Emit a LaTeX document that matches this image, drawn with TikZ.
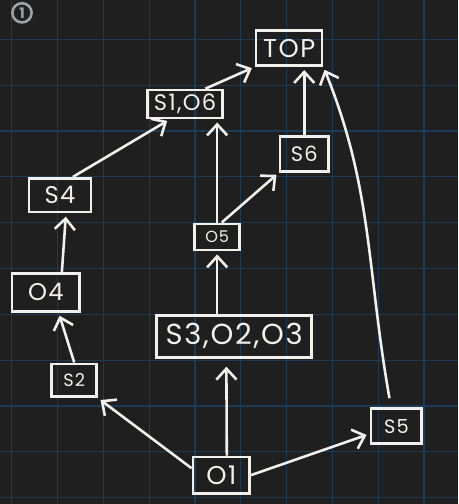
\documentclass[tikz,border=0pt]{standalone}
\usepackage{fontspec}
\setmainfont[LetterSpace=6]{Poppins}
\usetikzlibrary{arrows.meta}
\definecolor{board}{HTML}{201F1F}
\definecolor{gridblue}{HTML}{1A3C58}
\definecolor{chalk}{HTML}{F2F0EC}
\definecolor{pencil}{HTML}{9AA3A8}

\tikzset{
  box/.style={draw=chalk, text=chalk, line width=1.6pt, inner sep=0pt},
  link/.style={draw=chalk, line width=1.6pt, shorten >=2pt,
    -{Straight Barb[length=2.4mm,width=4.4mm]}}
}

\begin{document}
\begin{tikzpicture}

        % Board and grid
        \useasboundingbox (0,0) rectangle (10,11);
        \fill[board] (0,0) rectangle (10,11);
        \foreach \x in {0,...,9} \draw[gridblue, line width=0.7pt] (\x+0.255,0) -- (\x+0.255,11);
        \foreach \y in {0,...,10} \draw[gridblue, line width=0.7pt] (0,\y+0.14) -- (10,\y+0.14);

        % Page number
        \node[circle, draw=pencil, text=pencil, line width=1.6pt, inner sep=0pt, minimum size=0.42cm,
          font=\fontsize{9}{9}\selectfont\bfseries] (num) at (0.48, 10.72) {1};

        % Boxes
        \node[box, minimum width=1.44cm, minimum height=0.76cm, font=\fontsize{16}{16}\selectfont] (top) at (6.31, 9.95) {TOP};
        \node[box, minimum width=1.64cm, minimum height=0.61cm, font=\fontsize{14}{14}\selectfont] (s1o6) at (4.04, 8.73) {S1,O6};
        \node[box, minimum width=1.05cm, minimum height=0.76cm, font=\fontsize{13}{13}\selectfont] (s6) at (6.64, 7.64) {S6};
        \node[box, minimum width=1.35cm, minimum height=0.74cm, font=\fontsize{15}{15}\selectfont] (s4) at (1.31, 6.74) {S4};
        \node[box, minimum width=0.98cm, minimum height=0.57cm, font=\fontsize{10}{10}\selectfont] (o5) at (4.74, 5.83) {O5};
        \node[box, minimum width=1.48cm, minimum height=0.83cm, font=\fontsize{15}{15}\selectfont] (o4) at (1.00, 4.62) {O4};
        \node[box, minimum width=3.38cm, minimum height=0.92cm, font=\fontsize{18}{18}\selectfont] (s3o2o3) at (5.11, 3.66) {S3,O2,O3};
        \node[box, minimum width=0.98cm, minimum height=0.72cm, font=\fontsize{11}{11}\selectfont] (s2) at (1.62, 2.70) {S2};
        \node[box, minimum width=1.11cm, minimum height=0.76cm, font=\fontsize{12}{12}\selectfont] (s5) at (8.65, 1.70) {S5};
        \node[box, minimum width=1.24cm, minimum height=0.79cm, font=\fontsize{16}{16}\selectfont] (o1) at (4.83, 0.63) {O1};

        % Arrows out of O1
        \draw[link] ([yshift=0.15cm]o1.west) -- (s2.south east);
        \draw[link, shorten >=5pt] ([xshift=0.12cm]o1.north) -- ([xshift=-0.17cm]s3o2o3.south);
        \draw[link] (o1.east) -- ([yshift=-0.17cm]s5.west);

        % Left column
        \draw[link] (s2.north) -- ([xshift=0.28cm]o4.south);
        \draw[link] ([xshift=0.35cm]o4.north) -- ([xshift=0.13cm]s4.south);
        \draw[link] ([xshift=0.28cm]s4.north) -- ([xshift=-0.33cm]s1o6.south);

        % Middle
        \draw[link] (s3o2o3.north -| o5) -- (o5);
        \draw[link] (o5.north) -- (o5.north |- s1o6.south);
        \draw[link] ([xshift=0.1cm]o5.north) -- (s6.south west);

        % Into TOP
        \draw[link] (s6.north) -- (s6.north |- top.south);
        \draw[link] ([xshift=0.44cm]s1o6.north) -- (top.south west);
        \draw[link] ([xshift=-0.15cm,yshift=0.2cm]s5.north) to[out=100, in=-68] (top.south east);

\end{tikzpicture}
\end{document}
